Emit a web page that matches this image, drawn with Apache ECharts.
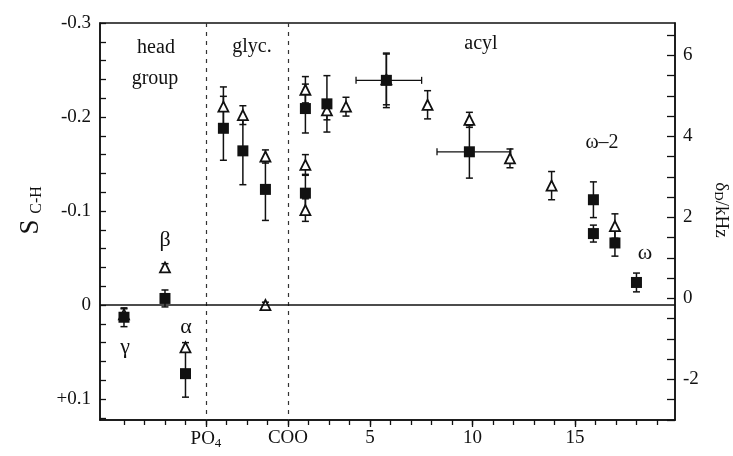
<!DOCTYPE html>
<html>
<head>
<meta charset="utf-8">
<script src="https://cdn.jsdelivr.net/npm/echarts@6/dist/echarts.min.js"></script>
<style>
html, body { margin: 0; background: #fff; }
#container { width: 733px; height: 456px; }
</style>
</head>
<body>
<div id="container"></div>
<script>
// filled squares: segment position, S(C-H), vertical error
var sqX   = [-7, -5, -4, -2.15, -1.2, -0.1, 1.85, 1.85, 2.9, 5.8, 9.85, 15.9, 15.9, 16.95, 18.0];
var sqY   = [0.013, -0.007, 0.073, -0.188, -0.164, -0.123, -0.209, -0.119, -0.214, -0.239, -0.163, -0.112, -0.076, -0.066, -0.024];
var sqErr = [0.010, 0.009, 0.025, 0.034, 0.036, 0.033, 0.026, 0.020, 0.030, 0.029, 0.028, 0.019, 0.009, 0.014, 0.010];

// open triangles
var triX   = [-7, -5, -4, -2.15, -1.2, -0.1, -0.1, 1.85, 1.85, 1.85, 2.9, 3.83, 5.8, 7.81, 9.85, 11.83, 13.86, 16.95];
var triY   = [0.010, -0.040, 0.045, -0.211, -0.202, -0.158, 0.0, -0.229, -0.149, -0.101, -0.207, -0.211, -0.240, -0.213, -0.197, -0.156, -0.127, -0.084];
var triErr = [0.006, 0.004, 0.005, 0.021, 0.010, 0.007, 0.003, 0.014, 0.011, 0.012, 0.010, 0.010, 0.027, 0.015, 0.008, 0.010, 0.015, 0.013];

// horizontal error bars of the averaged squares: x, S, from, to
var hBars = [[5.8, -0.239, 4.32, 7.52], [9.85, -0.163, 8.27, 11.87]];

// axis ticks and labels
var xTicks = [-7, -6, -5, -4, -3, -2, -1, 0, 1, 2, 3, 4, 5, 6, 7, 8, 9, 10, 11, 12, 13, 14, 15, 16, 17, 18, 19];
var xLabelVals = [-3, 1, 5, 10, 15];
var xLabelText = { '-3': '{a|PO}{s|4}', '1': 'COO', '5': '5', '10': '10', '15': '15' };
var sTicks = [-0.3, -0.28, -0.26, -0.24, -0.22, -0.2, -0.18, -0.16, -0.14, -0.12, -0.1, -0.08, -0.06, -0.04, -0.02, 0, 0.02, 0.04, 0.06, 0.08, 0.1, 0.12];
var sLabels = [-0.3, -0.2, -0.1, 0, 0.1];
var kTicks = [-3, -2.5, -2, -1.5, -1, -0.5, 0, 0.5, 1, 1.5, 2, 2.5, 3, 3.5, 4, 4.5, 5, 5.5, 6, 6.5];
var kLabels = [-2, 0, 2, 4, 6];

var FONT = '"Liberation Serif", "DejaVu Serif", serif';
var INK = '#111';

var myChart = echarts.init(document.getElementById('container'));

function zip3(a, b, c) {
    var out = [];
    for (var i = 0; i < a.length; i++) out.push([a[i], b[i], c[i]]);
    return out;
}

// vertical error bar with caps
function vBar(params, api) {
    var x = api.value(0), y = api.value(1), e = api.value(2);
    var p0 = api.coord([x, y - e]);
    var p1 = api.coord([x, y + e]);
    var cap = 3.5;
    var st = { stroke: INK, lineWidth: 1.5 };
    return {
        type: 'group',
        children: [
            { type: 'line', shape: { x1: p0[0], y1: p0[1], x2: p1[0], y2: p1[1] }, style: st },
            { type: 'line', shape: { x1: p0[0] - cap, y1: p0[1], x2: p0[0] + cap, y2: p0[1] }, style: st },
            { type: 'line', shape: { x1: p1[0] - cap, y1: p1[1], x2: p1[0] + cap, y2: p1[1] }, style: st }
        ]
    };
}

function hBar(params, api) {
    var y = api.value(1);
    var p0 = api.coord([api.value(2), y]);
    var p1 = api.coord([api.value(3), y]);
    var cap = 3.5;
    var st = { stroke: INK, lineWidth: 1.3 };
    return {
        type: 'group',
        children: [
            { type: 'line', shape: { x1: p0[0], y1: p0[1], x2: p1[0], y2: p1[1] }, style: st },
            { type: 'line', shape: { x1: p0[0], y1: p0[1] - cap, x2: p0[0], y2: p0[1] + cap }, style: st },
            { type: 'line', shape: { x1: p1[0], y1: p1[1] - cap, x2: p1[0], y2: p1[1] + cap }, style: st }
        ]
    };
}

function txt(s, x, y, size, rot) {
    return {
        type: 'text', x: x, y: y, rotation: rot || 0,
        style: { text: s, fontFamily: FONT, fontSize: size, fill: INK, align: 'center', verticalAlign: 'middle' }
    };
}

var xBase = {
    type: 'value', min: -8.17, max: 19.88, position: 'bottom',
    splitLine: { show: false }
};

var option = {
    animation: false,
    backgroundColor: '#fff',
    grid: {
        left: 100, right: 58, top: 23, bottom: 36,
        show: true, borderColor: INK, borderWidth: 1.5, backgroundColor: 'transparent'
    },
    xAxis: [
        echarts.util.merge({
            axisLine: { show: true, onZero: false, lineStyle: { color: INK, width: 1.5 } },
            axisTick: { show: true, inside: false, length: 5, customValues: xTicks, lineStyle: { color: INK, width: 1.3 } },
            axisLabel: {
                customValues: xLabelVals, margin: 9, color: INK, fontFamily: FONT, fontSize: 19,
                formatter: function (v) { return xLabelText[String(v)] || ''; },
                rich: {
                    a: { fontFamily: FONT, fontSize: 19, color: INK },
                    s: { fontFamily: FONT, fontSize: 13, color: INK, verticalAlign: 'bottom', padding: [8, 0, 0, 0] }
                }
            }
        }, xBase, true),
        echarts.util.merge({
            axisLine: { show: false, onZero: false },
            axisTick: { show: true, inside: false, length: 7, customValues: xLabelVals, lineStyle: { color: INK, width: 1.3 } },
            axisLabel: { show: false }
        }, xBase, true)
    ],
    yAxis: [
        {
            type: 'value', min: -0.3, max: 0.1223, inverse: true, position: 'left',
            splitLine: { show: false },
            axisLine: { show: true, onZero: false, lineStyle: { color: INK, width: 1.5 } },
            axisTick: { show: true, inside: true, length: 6, customValues: sTicks, lineStyle: { color: INK, width: 1.3 } },
            axisLabel: {
                customValues: sLabels, margin: 9, color: INK, fontFamily: FONT, fontSize: 19,
                padding: [8, 0, 0, 0],
                formatter: function (v) {
                    if (Math.abs(v) < 1e-9) return '0';
                    return (v > 0 ? '+' : '') + v.toFixed(1);
                }
            }
        },
        {
            type: 'value', min: -3, max: 6.8, position: 'right',
            splitLine: { show: false },
            axisLine: { show: true, onZero: false, lineStyle: { color: INK, width: 1.5 } },
            axisTick: { show: true, inside: true, length: 8, customValues: kTicks, lineStyle: { color: INK, width: 1.3 } },
            axisLabel: {
                customValues: kLabels, margin: 8, color: INK, fontFamily: FONT, fontSize: 19,
                formatter: function (v) { return String(v); }
            }
        }
    ],
    series: [
        {
            type: 'custom', renderItem: vBar, data: zip3(triX, triY, triErr),
            encode: { x: 0, y: 1 }, z: 2, silent: true
        },
        {
            type: 'custom', renderItem: vBar, data: zip3(sqX, sqY, sqErr),
            encode: { x: 0, y: 1 }, z: 2, silent: true
        },
        {
            type: 'custom', renderItem: hBar, data: hBars,
            encode: { x: 0, y: 1 }, z: 2, silent: true
        },
        {
            type: 'scatter', symbol: 'triangle', symbolSize: [10, 10], z: 3,
            data: triX.map(function (x, i) { return [x, triY[i]]; }),
            itemStyle: { color: '#fff', borderColor: INK, borderWidth: 1.8, opacity: 1 }
        },
        {
            type: 'scatter', symbol: 'rect', symbolSize: 11, z: 4,
            data: sqX.map(function (x, i) { return [x, sqY[i]]; }),
            itemStyle: { color: INK, opacity: 1 },
            markLine: {
                silent: true, symbol: 'none', animation: false,
                label: { show: false },
                data: [
                    { xAxis: -3, lineStyle: { type: [4, 5], color: '#333', width: 1.2 } },
                    { xAxis: 1, lineStyle: { type: [4, 5], color: '#333', width: 1.2 } },
                    { yAxis: 0, lineStyle: { type: 'solid', color: INK, width: 1.5 } }
                ]
            }
        }
    ],
    graphic: [
        txt('head', 156, 48, 20),
        txt('group', 155, 79, 20),
        txt('glyc.', 252, 47, 20),
        txt('acyl', 481, 44, 20),
        txt('\u03c9\u20132', 602, 143, 20),
        txt('\u03c9', 645, 253, 22),
        txt('\u03b2', 165, 240, 22),
        txt('\u03b3', 125, 347, 22),
        txt('\u03b1', 186, 327, 22),
        txt('S', 31, 227, 27, Math.PI / 2),
        txt('C-H', 37, 200, 16, Math.PI / 2),
        {
            type: 'text', x: 721, y: 210, rotation: -Math.PI / 2,
            style: {
                text: '{a|\u03b4}{s|D}{a|/kHz}', align: 'center', verticalAlign: 'middle',
                rich: {
                    a: { fontFamily: FONT, fontSize: 19, fill: INK },
                    s: { fontFamily: FONT, fontSize: 13, fill: INK, verticalAlign: 'bottom' }
                }
            }
        }
    ]
};

myChart.setOption(option);
</script>
</body>
</html>
